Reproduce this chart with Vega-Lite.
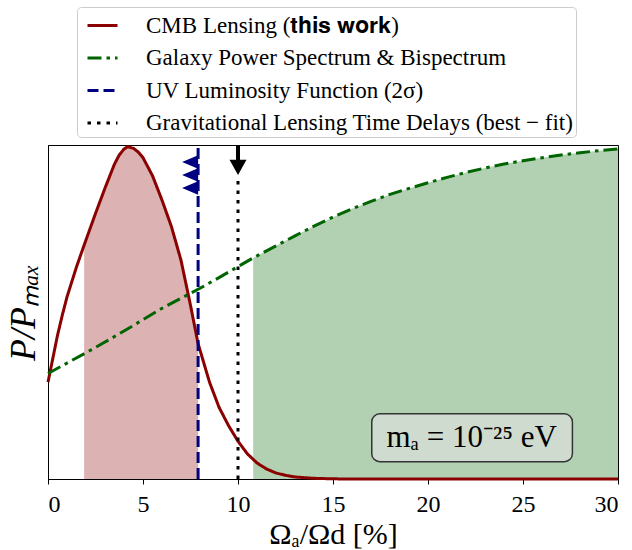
{
  "$schema": "https://vega.github.io/schema/vega-lite/v6.json",
  "width": 570,
  "height": 334,
  "autosize": "none",
  "padding": {"left": 48, "top": 145, "right": 14, "bottom": 71},
  "background": "white",
  "config": {
    "view": {"stroke": "black", "strokeWidth": 1},
    "font": "Liberation Serif",
    "legend": {
      "title": null,
      "orient": "none",
      "legendX": 29,
      "legendY": -138,
      "fillColor": "white",
      "strokeColor": "#cccccc",
      "cornerRadius": 4,
      "padding": 2,
      "labelFont": "Liberation Serif",
      "labelFontSize": 23,
      "labelColor": "black",
      "labelLimit": 0,
      "labelOffset": 27,
      "symbolType": "stroke",
      "symbolSize": 900,
      "symbolStrokeWidth": 3,
      "symbolOffset": 7,
      "rowPadding": 3.5
    }
  },
  "datasets": {
    "curves": [
      {"series": "CMB Lensing (𝐭𝐡𝐢𝐬 𝐰𝐨𝐫𝐤)", "x": 0, "y": 0.29},
      {"series": "CMB Lensing (𝐭𝐡𝐢𝐬 𝐰𝐨𝐫𝐤)", "x": 0.25, "y": 0.36},
      {"series": "CMB Lensing (𝐭𝐡𝐢𝐬 𝐰𝐨𝐫𝐤)", "x": 0.5, "y": 0.43},
      {"series": "CMB Lensing (𝐭𝐡𝐢𝐬 𝐰𝐨𝐫𝐤)", "x": 0.75, "y": 0.49},
      {"series": "CMB Lensing (𝐭𝐡𝐢𝐬 𝐰𝐨𝐫𝐤)", "x": 1, "y": 0.545},
      {"series": "CMB Lensing (𝐭𝐡𝐢𝐬 𝐰𝐨𝐫𝐤)", "x": 1.5, "y": 0.635},
      {"series": "CMB Lensing (𝐭𝐡𝐢𝐬 𝐰𝐨𝐫𝐤)", "x": 1.9, "y": 0.7},
      {"series": "CMB Lensing (𝐭𝐡𝐢𝐬 𝐰𝐨𝐫𝐤)", "x": 2.5, "y": 0.795},
      {"series": "CMB Lensing (𝐭𝐡𝐢𝐬 𝐰𝐨𝐫𝐤)", "x": 3, "y": 0.871},
      {"series": "CMB Lensing (𝐭𝐡𝐢𝐬 𝐰𝐨𝐫𝐤)", "x": 3.5, "y": 0.943},
      {"series": "CMB Lensing (𝐭𝐡𝐢𝐬 𝐰𝐨𝐫𝐤)", "x": 3.75, "y": 0.97},
      {"series": "CMB Lensing (𝐭𝐡𝐢𝐬 𝐰𝐨𝐫𝐤)", "x": 4, "y": 0.988},
      {"series": "CMB Lensing (𝐭𝐡𝐢𝐬 𝐰𝐨𝐫𝐤)", "x": 4.2, "y": 0.995},
      {"series": "CMB Lensing (𝐭𝐡𝐢𝐬 𝐰𝐨𝐫𝐤)", "x": 4.5, "y": 0.99},
      {"series": "CMB Lensing (𝐭𝐡𝐢𝐬 𝐰𝐨𝐫𝐤)", "x": 4.75, "y": 0.979},
      {"series": "CMB Lensing (𝐭𝐡𝐢𝐬 𝐰𝐨𝐫𝐤)", "x": 5, "y": 0.962},
      {"series": "CMB Lensing (𝐭𝐡𝐢𝐬 𝐰𝐨𝐫𝐤)", "x": 5.5, "y": 0.908},
      {"series": "CMB Lensing (𝐭𝐡𝐢𝐬 𝐰𝐨𝐫𝐤)", "x": 6, "y": 0.835},
      {"series": "CMB Lensing (𝐭𝐡𝐢𝐬 𝐰𝐨𝐫𝐤)", "x": 6.5, "y": 0.755},
      {"series": "CMB Lensing (𝐭𝐡𝐢𝐬 𝐰𝐨𝐫𝐤)", "x": 7, "y": 0.655},
      {"series": "CMB Lensing (𝐭𝐡𝐢𝐬 𝐰𝐨𝐫𝐤)", "x": 7.5, "y": 0.52},
      {"series": "CMB Lensing (𝐭𝐡𝐢𝐬 𝐰𝐨𝐫𝐤)", "x": 7.9, "y": 0.405},
      {"series": "CMB Lensing (𝐭𝐡𝐢𝐬 𝐰𝐨𝐫𝐤)", "x": 8.5, "y": 0.29},
      {"series": "CMB Lensing (𝐭𝐡𝐢𝐬 𝐰𝐨𝐫𝐤)", "x": 9, "y": 0.215},
      {"series": "CMB Lensing (𝐭𝐡𝐢𝐬 𝐰𝐨𝐫𝐤)", "x": 9.5, "y": 0.16},
      {"series": "CMB Lensing (𝐭𝐡𝐢𝐬 𝐰𝐨𝐫𝐤)", "x": 10, "y": 0.113},
      {"series": "CMB Lensing (𝐭𝐡𝐢𝐬 𝐰𝐨𝐫𝐤)", "x": 10.5, "y": 0.075},
      {"series": "CMB Lensing (𝐭𝐡𝐢𝐬 𝐰𝐨𝐫𝐤)", "x": 11, "y": 0.048},
      {"series": "CMB Lensing (𝐭𝐡𝐢𝐬 𝐰𝐨𝐫𝐤)", "x": 11.5, "y": 0.03},
      {"series": "CMB Lensing (𝐭𝐡𝐢𝐬 𝐰𝐨𝐫𝐤)", "x": 12, "y": 0.018},
      {"series": "CMB Lensing (𝐭𝐡𝐢𝐬 𝐰𝐨𝐫𝐤)", "x": 12.5, "y": 0.011},
      {"series": "CMB Lensing (𝐭𝐡𝐢𝐬 𝐰𝐨𝐫𝐤)", "x": 13, "y": 0.006},
      {"series": "CMB Lensing (𝐭𝐡𝐢𝐬 𝐰𝐨𝐫𝐤)", "x": 14, "y": 0.002},
      {"series": "CMB Lensing (𝐭𝐡𝐢𝐬 𝐰𝐨𝐫𝐤)", "x": 15, "y": 0.0005},
      {"series": "CMB Lensing (𝐭𝐡𝐢𝐬 𝐰𝐨𝐫𝐤)", "x": 16, "y": 0},
      {"series": "CMB Lensing (𝐭𝐡𝐢𝐬 𝐰𝐨𝐫𝐤)", "x": 20, "y": 0},
      {"series": "CMB Lensing (𝐭𝐡𝐢𝐬 𝐰𝐨𝐫𝐤)", "x": 25, "y": 0},
      {"series": "CMB Lensing (𝐭𝐡𝐢𝐬 𝐰𝐨𝐫𝐤)", "x": 30, "y": 0},
      {"series": "Galaxy Power Spectrum & Bispectrum", "x": 0, "y": 0.316},
      {"series": "Galaxy Power Spectrum & Bispectrum", "x": 1, "y": 0.347},
      {"series": "Galaxy Power Spectrum & Bispectrum", "x": 2, "y": 0.378},
      {"series": "Galaxy Power Spectrum & Bispectrum", "x": 3, "y": 0.41},
      {"series": "Galaxy Power Spectrum & Bispectrum", "x": 4, "y": 0.443},
      {"series": "Galaxy Power Spectrum & Bispectrum", "x": 5, "y": 0.477},
      {"series": "Galaxy Power Spectrum & Bispectrum", "x": 6, "y": 0.511},
      {"series": "Galaxy Power Spectrum & Bispectrum", "x": 7, "y": 0.541},
      {"series": "Galaxy Power Spectrum & Bispectrum", "x": 8, "y": 0.571},
      {"series": "Galaxy Power Spectrum & Bispectrum", "x": 9, "y": 0.603},
      {"series": "Galaxy Power Spectrum & Bispectrum", "x": 10, "y": 0.636},
      {"series": "Galaxy Power Spectrum & Bispectrum", "x": 10.8, "y": 0.662},
      {"series": "Galaxy Power Spectrum & Bispectrum", "x": 11, "y": 0.668},
      {"series": "Galaxy Power Spectrum & Bispectrum", "x": 12, "y": 0.698},
      {"series": "Galaxy Power Spectrum & Bispectrum", "x": 13, "y": 0.728},
      {"series": "Galaxy Power Spectrum & Bispectrum", "x": 14, "y": 0.757},
      {"series": "Galaxy Power Spectrum & Bispectrum", "x": 15, "y": 0.784},
      {"series": "Galaxy Power Spectrum & Bispectrum", "x": 16, "y": 0.809},
      {"series": "Galaxy Power Spectrum & Bispectrum", "x": 17, "y": 0.831},
      {"series": "Galaxy Power Spectrum & Bispectrum", "x": 18, "y": 0.852},
      {"series": "Galaxy Power Spectrum & Bispectrum", "x": 19, "y": 0.87},
      {"series": "Galaxy Power Spectrum & Bispectrum", "x": 20, "y": 0.887},
      {"series": "Galaxy Power Spectrum & Bispectrum", "x": 21, "y": 0.903},
      {"series": "Galaxy Power Spectrum & Bispectrum", "x": 22, "y": 0.918},
      {"series": "Galaxy Power Spectrum & Bispectrum", "x": 23, "y": 0.931},
      {"series": "Galaxy Power Spectrum & Bispectrum", "x": 24, "y": 0.943},
      {"series": "Galaxy Power Spectrum & Bispectrum", "x": 25, "y": 0.953},
      {"series": "Galaxy Power Spectrum & Bispectrum", "x": 26, "y": 0.962},
      {"series": "Galaxy Power Spectrum & Bispectrum", "x": 27, "y": 0.97},
      {"series": "Galaxy Power Spectrum & Bispectrum", "x": 28, "y": 0.977},
      {"series": "Galaxy Power Spectrum & Bispectrum", "x": 29, "y": 0.983},
      {"series": "Galaxy Power Spectrum & Bispectrum", "x": 30, "y": 0.988},
      {"series": "UV Luminosity Function (2σ)", "x": 7.9, "y": 0},
      {"series": "UV Luminosity Function (2σ)", "x": 7.9, "y": 1},
      {"series": "Gravitational Lensing Time Delays (best − fit)", "x": 10, "y": 0},
      {"series": "Gravitational Lensing Time Delays (best − fit)", "x": 10, "y": 0.895}
    ],
    "uvlimits": [
      {"x": 7.9, "y": 0.949},
      {"x": 7.9, "y": 0.91},
      {"x": 7.9, "y": 0.871}
    ]
  },
  "layer": [
    {
      "data": {"name": "curves"},
      "transform": [
        {"filter": "datum.series === 'CMB Lensing (𝐭𝐡𝐢𝐬 𝐰𝐨𝐫𝐤)' && datum.x >= 1.9 && datum.x <= 7.9"}
      ],
      "mark": {"type": "area", "color": "#8b0000", "opacity": 0.3},
      "encoding": {
        "x": {"field": "x", "type": "quantitative", "scale": {"domain": [0, 30], "nice": false}},
        "y": {"field": "y", "type": "quantitative", "scale": {"domain": [0, 1], "nice": false}}
      }
    },
    {
      "data": {"name": "curves"},
      "transform": [
        {"filter": "datum.series === 'Galaxy Power Spectrum & Bispectrum' && datum.x >= 10.8"}
      ],
      "mark": {"type": "area", "color": "#006400", "opacity": 0.3},
      "encoding": {
        "x": {"field": "x", "type": "quantitative"},
        "y": {"field": "y", "type": "quantitative"}
      }
    },
    {
      "data": {"name": "curves"},
      "mark": {"type": "line", "strokeWidth": 3},
      "encoding": {
        "x": {
          "field": "x", "type": "quantitative",
          "axis": {
            "values": [0, 5, 10, 15, 20, 25, 30],
            "grid": false,
            "domainColor": "black",
            "tickColor": "black",
            "tickSize": 5,
            "labelFont": "Liberation Serif",
            "labelFontSize": 24,
            "labelColor": "black",
            "labelPadding": 8,
            "title": "Ωₐ/Ωd [%]",
            "titleFont": "Liberation Serif",
            "titleFontSize": 30,
            "titleFontWeight": "normal",
            "titleColor": "black",
            "titlePadding": 3
          }
        },
        "y": {
          "field": "y", "type": "quantitative",
          "axis": {
            "grid": false,
            "labels": false,
            "ticks": false,
            "domainColor": "black",
            "title": "P/Pₘₐₓ",
            "titleFont": "Liberation Serif",
            "titleFontSize": 36,
            "titleFontWeight": "normal",
            "titleFontStyle": "italic",
            "titleColor": "black",
            "titlePadding": 6
          }
        },
        "color": {
          "field": "series", "type": "nominal",
          "scale": {
            "domain": ["CMB Lensing (𝐭𝐡𝐢𝐬 𝐰𝐨𝐫𝐤)", "Galaxy Power Spectrum & Bispectrum", "UV Luminosity Function (2σ)", "Gravitational Lensing Time Delays (best − fit)"],
            "range": ["#8b0000", "#006400", "#000080", "#000000"]
          },
          "legend": {"orient": "none", "legendX": 29, "legendY": -138}
        },
        "strokeDash": {
          "field": "series", "type": "nominal",
          "scale": {
            "domain": ["CMB Lensing (𝐭𝐡𝐢𝐬 𝐰𝐨𝐫𝐤)", "Galaxy Power Spectrum & Bispectrum", "UV Luminosity Function (2σ)", "Gravitational Lensing Time Delays (best − fit)"],
            "range": [[1, 0], [14, 5, 3.5, 5], [11, 5], [3.5, 6]]
          },
          "legend": {"orient": "none", "legendX": 29, "legendY": -138}
        },
        "order": {"value": null}
      }
    },
    {
      "data": {"name": "uvlimits"},
      "mark": {"type": "point", "filled": true, "color": "#000080", "opacity": 1, "shape": "M0,-0.42L-1,0L0,0.42Z", "size": 1024, "strokeWidth": 0},
      "encoding": {
        "x": {"field": "x", "type": "quantitative"},
        "y": {"field": "y", "type": "quantitative"}
      }
    },
    {
      "data": {"values": [{}]},
      "mark": {"type": "rule", "color": "black", "strokeWidth": 4},
      "encoding": {
        "x": {"datum": 10, "type": "quantitative"},
        "y": {"datum": 1, "type": "quantitative"},
        "y2": {"datum": 0.945}
      }
    },
    {
      "data": {"values": [{}]},
      "mark": {"type": "point", "filled": true, "color": "black", "opacity": 1, "shape": "M-1,-0.9L1,-0.9L0,0.9Z", "size": 289, "strokeWidth": 0},
      "encoding": {
        "x": {"datum": 10, "type": "quantitative"},
        "y": {"datum": 0.933, "type": "quantitative"}
      }
    },
    {
      "data": {"values": [{}]},
      "mark": {"type": "rect", "fill": "#cfdbcf", "stroke": "#333333", "strokeWidth": 1.5, "cornerRadius": 8},
      "encoding": {
        "x": {"datum": 17.04, "type": "quantitative"},
        "x2": {"datum": 27.6},
        "y": {"datum": 0.052, "type": "quantitative"},
        "y2": {"datum": 0.195}
      }
    },
    {
      "data": {"values": [{}]},
      "mark": {"type": "text", "font": "Liberation Serif", "fontSize": 31, "color": "black", "align": "center", "baseline": "middle"},
      "encoding": {
        "x": {"datum": 22.3, "type": "quantitative"},
        "y": {"datum": 0.124, "type": "quantitative"},
        "text": {"value": "mₐ = 10⁻²⁵ eV"}
      }
    }
  ]
}
